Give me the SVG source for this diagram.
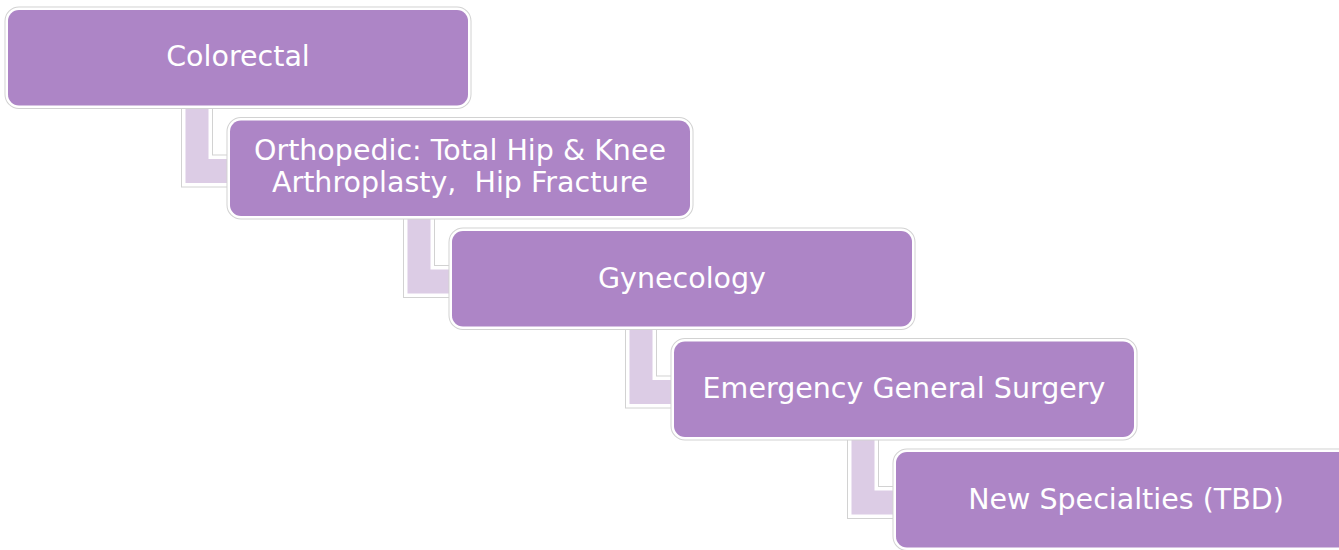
<svg xmlns="http://www.w3.org/2000/svg" width="1339" height="550" viewBox="0 0 1339 550">
<style>
.cg{fill:none;stroke:#d2d2d2;stroke-width:9;stroke-linejoin:miter}
.cw{fill:#dccce5;stroke:#ffffff;stroke-width:7;paint-order:stroke}
.bg{fill:none;stroke:#d2d2d2;stroke-width:7}
.bw{fill:#ad85c6;stroke:#ffffff;stroke-width:5;paint-order:stroke}
.t{font-family:"DejaVu Sans","Liberation Sans",sans-serif;font-size:28.5px;fill:#ffffff;text-anchor:middle}
</style>
<rect width="1339" height="550" fill="#ffffff"/>
<g id="connectors">
  <path class="cg" d="M185.5 100 V183 H243 V159 H208.5 V100 Z"/>
  <path class="cw" d="M185.5 100 V183 H243 V159 H208.5 V100 Z"/>
  <path class="cg" d="M407.5 210.5 V293.5 H465 V269.5 H430.5 V210.5 Z"/>
  <path class="cw" d="M407.5 210.5 V293.5 H465 V269.5 H430.5 V210.5 Z"/>
  <path class="cg" d="M629.5 321 V404 H687 V380 H652.5 V321 Z"/>
  <path class="cw" d="M629.5 321 V404 H687 V380 H652.5 V321 Z"/>
  <path class="cg" d="M851.5 431.5 V514.5 H909 V490.5 H874.5 V431.5 Z"/>
  <path class="cw" d="M851.5 431.5 V514.5 H909 V490.5 H874.5 V431.5 Z"/>
</g>
<g id="node1">
  <rect class="bg" x="8" y="10" width="460" height="95.5" rx="11"/>
  <rect class="bw" x="8" y="10" width="460" height="95.5" rx="11"/>
  <text class="t" x="238" y="65.5">Colorectal</text>
</g>
<g id="node2">
  <rect class="bg" x="230" y="120.5" width="460" height="95.5" rx="11"/>
  <rect class="bw" x="230" y="120.5" width="460" height="95.5" rx="11"/>
  <text class="t" x="460" y="160">Orthopedic: Total Hip &amp; Knee</text>
  <text class="t" x="460" y="191.5" xml:space="preserve">Arthroplasty,  Hip Fracture</text>
</g>
<g id="node3">
  <rect class="bg" x="452" y="231" width="460" height="95.5" rx="11"/>
  <rect class="bw" x="452" y="231" width="460" height="95.5" rx="11"/>
  <text class="t" x="682" y="287.5">Gynecology</text>
</g>
<g id="node4">
  <rect class="bg" x="674" y="341.5" width="460" height="95.5" rx="11"/>
  <rect class="bw" x="674" y="341.5" width="460" height="95.5" rx="11"/>
  <text class="t" x="904" y="398">Emergency General Surgery</text>
</g>
<g id="node5">
  <rect class="bg" x="896" y="452" width="460" height="95.5" rx="11"/>
  <rect class="bw" x="896" y="452" width="460" height="95.5" rx="11"/>
  <text class="t" x="1126" y="508.5">New Specialties (TBD)</text>
</g>
</svg>
